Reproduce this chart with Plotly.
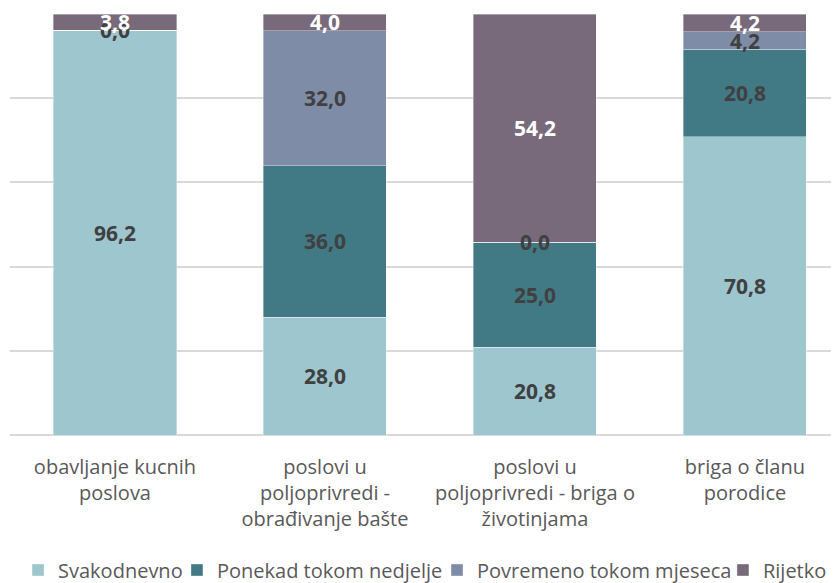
import plotly.graph_objects as go

categories = [
    "obavljanje kucnih<br>poslova",
    "poslovi u<br>poljoprivredi -<br>obrađivanje bašte",
    "poslovi u<br>poljoprivredi - briga o<br>životinjama",
    "briga o članu<br>porodice",
]
series_names = ["Svakodnevno", "Ponekad tokom nedjelje", "Povremeno tokom mjeseca", "Rijetko"]
svakodnevno = [96.2, 28.0, 20.8, 70.8]
ponekad = [0.0, 36.0, 25.0, 20.8]
povremeno = [0.0, 32.0, 0.0, 4.2]
rijetko = [3.8, 4.0, 54.2, 4.2]
series_values = [svakodnevno, ponekad, povremeno, rijetko]
colors = ["#9DC6CE", "#417A84", "#7F8CA8", "#786A7A"]
label_colors = ["#404040", "#404040", "#404040", "#FFFFFF"]

FONT = "Open Sans"
legend_ids = ["legend", "legend2", "legend3", "legend4"]
legend_x = [0.0097, 0.2014, 0.5151, 0.8600]

fig = go.Figure()
for name, vals, col, lid in zip(series_names, series_values, colors, legend_ids):
    fig.add_trace(go.Bar(
        x=list(range(len(categories))), y=vals, name=name, legend=lid,
        showlegend=True,
        marker=dict(color=col, line=dict(color="rgba(255,255,255,0.6)", width=0.6)),
        width=0.586,
    ))

annotations = []
for i in range(len(categories)):
    base = 0.0
    for s, (vals, lc) in enumerate(zip(series_values, label_colors)):
        v = vals[i]
        if s == 2 and i == 0:
            base += v
            continue
        annotations.append(dict(
            x=i, y=base + v / 2, xref="x", yref="y", showarrow=False,
            text=f"{v:.1f}".replace(".", ","),
            font=dict(family=FONT, size=21, color=lc, weight="bold"),
        ))
        base += v

legend_common = dict(
    orientation="h", xanchor="left", yref="container", y=0.0226, yanchor="middle",
    font=dict(family=FONT, size=20, color="#595959"), itemwidth=30,
    bgcolor="rgba(0,0,0,0)",
)

fig.update_layout(
    barmode="stack",
    showlegend=True,
    width=831, height=575,
    margin=dict(l=2, r=0, t=6, b=148),
    paper_bgcolor="white", plot_bgcolor="white",
    font=dict(family=FONT, size=20, color="#595959"),
    xaxis=dict(
        tickmode="array", tickvals=list(range(len(categories))), ticktext=categories,
        range=[-0.5, 3.448], showgrid=False, zeroline=False, automargin=False,
        showline=False, ticks="", tickfont=dict(size=20, color="#595959"),
        ticklabelstandoff=18,
    ),
    yaxis=dict(
        range=[0, 100], dtick=20, showgrid=True, gridcolor="#D9D9D9", gridwidth=1.5,
        showticklabels=False, zeroline=True, zerolinecolor="#D9D9D9", zerolinewidth=1.5,
        automargin=False,
    ),
    annotations=annotations,
)
for lid, lx in zip(legend_ids, legend_x):
    fig.update_layout({lid: dict(x=lx, **legend_common)})

fig.write_html("out.html")
